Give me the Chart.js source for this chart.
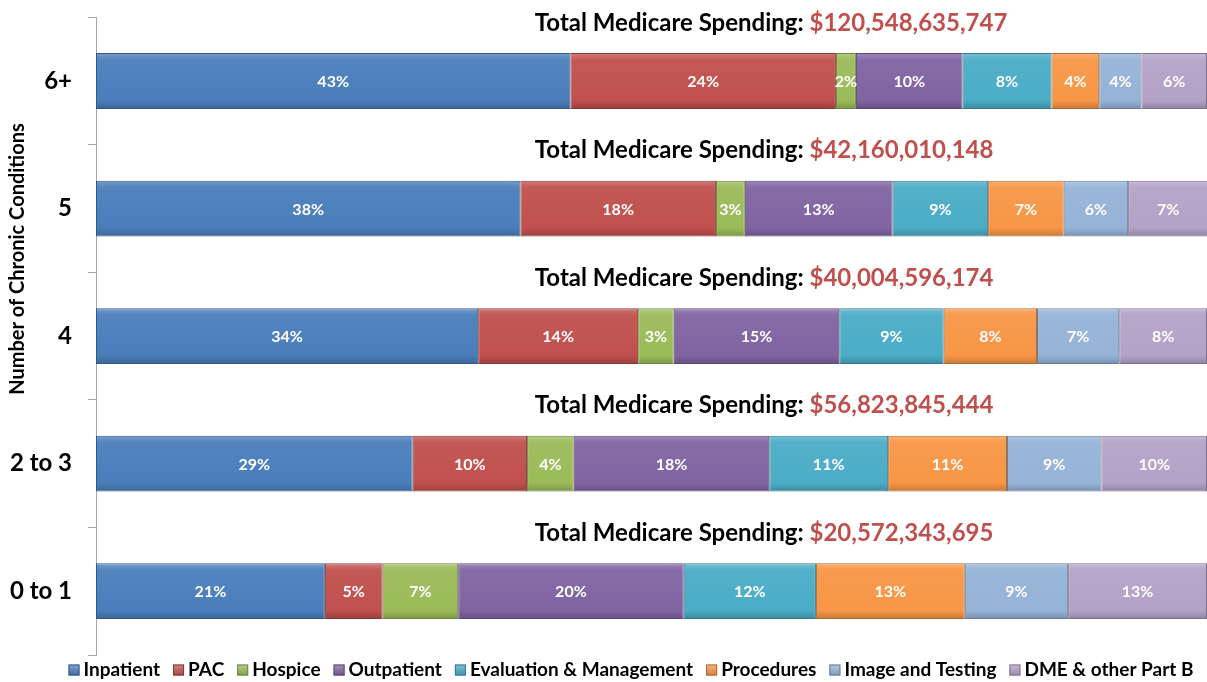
<!DOCTYPE html>
<html>
<head>
<meta charset="utf-8">
<script src="https://cdn.jsdelivr.net/npm/chart.js@4/dist/chart.umd.min.js"></script>
<style>
  body { margin: 0; background: #fff; }
  #wrap { width: 1207px; height: 682px; }
</style>
</head>
<body>
<div id="wrap"><canvas id="spend-chart"></canvas></div>
<script>
var conditions = ["6+", "5", "4", "2 to 3", "0 to 1"];
var totals = [120548635747, 42160010148, 40004596174, 56823845444, 20572343695];

// percent of spending per category, rows follow conditions order
var inpatient = [42.7, 38.2, 34.4, 28.5, 20.6];
var pac = [23.9, 17.6, 14.4, 10.3, 5.2];
var hospice = [1.8, 2.6, 3.2, 4.2, 6.8];
var outpatient = [9.6, 13.3, 14.9, 17.6, 20.3];
var evalMgmt = [8.0, 8.6, 9.4, 10.7, 11.9];
var procedures = [4.3, 6.8, 8.4, 10.7, 13.4];
var imaging = [3.8, 5.8, 7.4, 8.5, 9.3];
var dme = [5.9, 7.2, 7.9, 9.5, 12.5];

var FONT = "Lato";

function shade(hex, amt) {
  var n = parseInt(hex.slice(1), 16);
  var r = (n >> 16) & 255, g = (n >> 8) & 255, b = n & 255;
  function f(c) {
    c = amt > 0 ? c + (255 - c) * amt : c * (1 + amt);
    return Math.round(Math.max(0, Math.min(255, c)));
  }
  return "rgb(" + f(r) + "," + f(g) + "," + f(b) + ")";
}

function glossy(hex) {
  return function (ctx) {
    var chart = ctx.chart;
    var ys = chart.scales.y;
    if (!ys || ctx.dataIndex === undefined) return hex;
    var yc = ys.getPixelForValue(ctx.dataIndex);
    var half = (ys.height / conditions.length) * 0.4375 / 2;
    if (!isFinite(yc) || !isFinite(half) || half <= 0) return hex;
    var g = chart.ctx.createLinearGradient(0, yc - half, 0, yc + half);
    g.addColorStop(0, shade(hex, 0.25));
    g.addColorStop(0.12, shade(hex, 0.05));
    g.addColorStop(0.85, hex);
    g.addColorStop(1, shade(hex, -0.2));
    return g;
  };
}

function makeSet(label, data, color) {
  return {
    label: label,
    data: data,
    backgroundColor: glossy(color),
    borderColor: shade(color, -0.3),
    borderWidth: 1,
    borderSkipped: false,
    categoryPercentage: 1,
    barPercentage: 0.4375,
    legendColor: color
  };
}

var segmentLabels = {
  id: "segmentLabels",
  afterDatasetsDraw: function (chart) {
    var c = chart.ctx;
    c.save();
    c.font = "bold 16px " + FONT;
    c.fillStyle = "#fff";
    c.textAlign = "center";
    c.textBaseline = "middle";
    chart.data.datasets.forEach(function (ds, i) {
      chart.getDatasetMeta(i).data.forEach(function (bar, j) {
        var cx = (bar.x + bar.base) / 2;
        c.fillText(Math.round(ds.data[j]) + "%", cx, bar.y + 1);
      });
    });
    c.restore();
  }
};

var totalTitles = {
  id: "totalTitles",
  afterDatasetsDraw: function (chart) {
    var c = chart.ctx;
    var xs = chart.scales.x, ys = chart.scales.y;
    c.save();
    c.font = "bold 24px " + FONT;
    c.textBaseline = "middle";
    c.textAlign = "left";
    var step = ys.height / conditions.length;
    conditions.forEach(function (cat, j) {
      var y = ys.getPixelForValue(j) - step * 0.455;
      var x = xs.getPixelForValue(39.5);
      var lead = "Total Medicare Spending: ";
      c.fillStyle = "#000";
      c.fillText(lead, x, y);
      c.fillStyle = "#c0504d";
      c.fillText("$" + totals[j].toLocaleString("en-US"), x + c.measureText(lead).width, y);
    });
    c.restore();
  }
};

// axis title sits above centre in the original, and the legend is drawn by hand
var extras = {
  id: "extras",
  afterDraw: function (chart) {
    var c = chart.ctx;
    c.save();
    c.fillStyle = "#000";
    c.font = "bold 20px " + FONT;
    c.textAlign = "center";
    c.textBaseline = "middle";
    c.translate(18, 259);
    c.rotate(-Math.PI / 2);
    c.fillText("Number of Chronic Conditions", 0, 0);
    c.restore();

    c.save();
    c.font = "bold 19px " + FONT;
    c.textBaseline = "middle";
    var box = 11, gapText = 4, gapItem = 13;
    var sets = chart.data.datasets;
    var total = 0;
    sets.forEach(function (ds, i) {
      total += box + gapText + c.measureText(ds.label).width + (i ? gapItem : 0);
    });
    var x = 631 - total / 2, y = 670;
    sets.forEach(function (ds) {
      var g = c.createLinearGradient(0, y - box / 2, 0, y + box / 2);
      g.addColorStop(0, shade(ds.legendColor, 0.3));
      g.addColorStop(1, shade(ds.legendColor, -0.15));
      c.fillStyle = g;
      c.fillRect(x, y - box / 2, box, box);
      c.strokeStyle = shade(ds.legendColor, -0.3);
      c.lineWidth = 1;
      c.strokeRect(x + 0.5, y - box / 2 + 0.5, box - 1, box - 1);
      x += box + gapText;
      c.fillStyle = "#000";
      c.fillText(ds.label, x, y);
      x += c.measureText(ds.label).width + gapItem;
    });
    c.restore();
  }
};

new Chart(document.getElementById("spend-chart"), {
  type: "bar",
  data: {
    labels: conditions,
    datasets: [
      makeSet("Inpatient", inpatient, "#4a7ebb"),
      makeSet("PAC", pac, "#c0504d"),
      makeSet("Hospice", hospice, "#9bbb59"),
      makeSet("Outpatient", outpatient, "#8064a2"),
      makeSet("Evaluation & Management", evalMgmt, "#4bacc6"),
      makeSet("Procedures", procedures, "#f79646"),
      makeSet("Image and Testing", imaging, "#95b3d7"),
      makeSet("DME & other Part B", dme, "#b3a2c7")
    ]
  },
  options: {
    indexAxis: "y",
    responsive: true,
    maintainAspectRatio: false,
    animation: false,
    layout: { padding: { top: 17, right: 0, left: 0, bottom: 27 } },
    scales: {
      x: { stacked: true, min: 0, max: 100, display: false },
      y: {
        stacked: true,
        grid: { offset: true, drawOnChartArea: false, tickLength: 8, color: "#a6a6a6" },
        border: { color: "#a6a6a6" },
        ticks: { padding: 16, color: "#000", font: { family: FONT, size: 24, weight: "bold", lineHeight: 0.1 } },
        afterFit: function (scale) { scale.width = 96; }
      }
    },
    plugins: {
      legend: { display: false },
      tooltip: { enabled: false }
    }
  },
  plugins: [segmentLabels, totalTitles, extras]
});
</script>
</body>
</html>
